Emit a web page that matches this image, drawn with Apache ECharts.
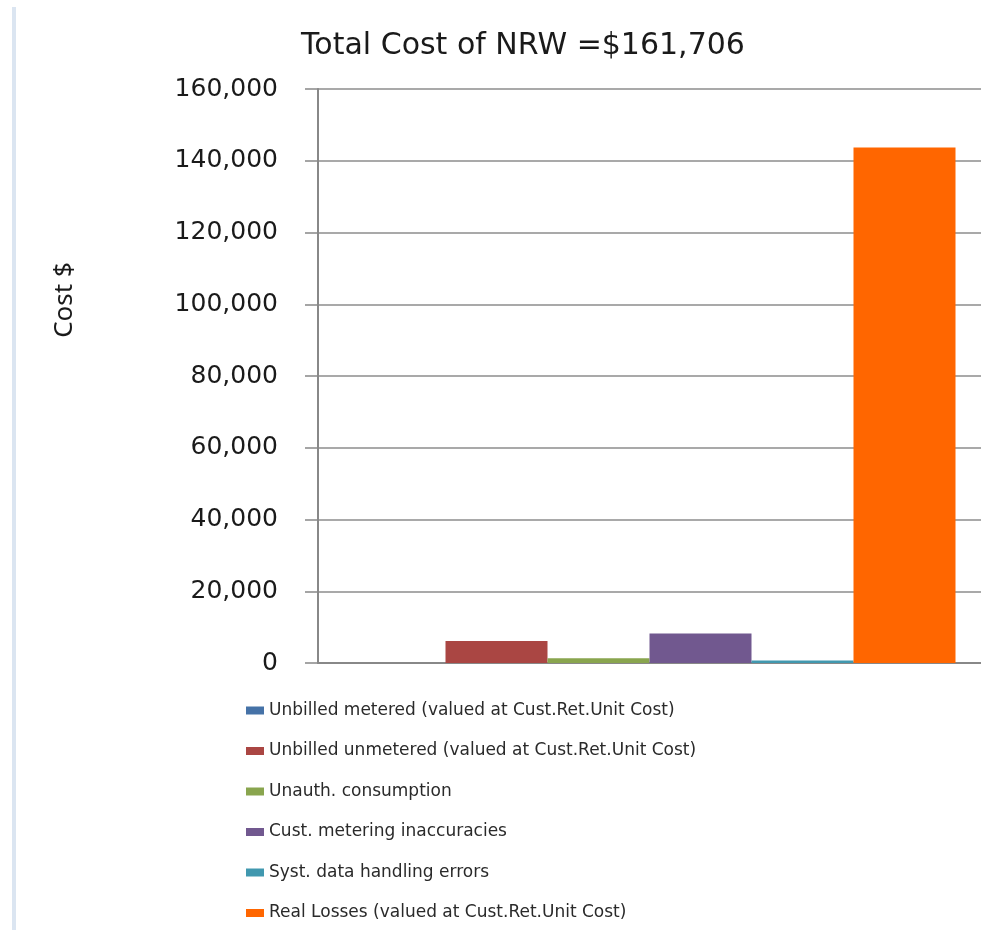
<!DOCTYPE html>
<html>
<head>
<meta charset="utf-8">
<script src="https://cdn.jsdelivr.net/npm/echarts@6/dist/echarts.min.js"></script>
<style>
html,body{margin:0;padding:0;background:#fff;}
#c{width:981px;height:930px;}
</style>
</head>
<body>
<div id="c"></div>
<script>
var titleText = "Total Cost of NRW =$161,706";
var axisTitle = "Cost $";
var categories = [""];
var seriesNames = [
  "Unbilled metered (valued at Cust.Ret.Unit Cost)",
  "Unbilled unmetered (valued at Cust.Ret.Unit Cost)",
  "Unauth. consumption",
  "Cust. metering inaccuracies",
  "Syst. data handling errors",
  "Real Losses (valued at Cust.Ret.Unit Cost)"
];
var seriesValues = [0, 6100, 1300, 8250, 700, 143700];
var seriesColors = ["#4572A7", "#AA4643", "#89A54E", "#71588F", "#4198AF", "#FF6600"];
var yMin = 0, yMax = 160000, yStep = 20000;

var chart = echarts.init(document.getElementById('c'), null, {renderer: 'canvas'});
var series = seriesNames.map(function (n, i) {
  return {
    name: n,
    type: 'bar',
    data: [seriesValues[i]],
    barGap: '0%',
    barWidth: 102,
    itemStyle: {color: seriesColors[i]}
  };
});
chart.setOption({
  animation: false,
  backgroundColor: '#ffffff',
  title: {
    text: titleText,
    left: 518, top: 26, textAlign: 'center',
    textStyle: {fontFamily: 'DejaVu Sans', fontSize: 30, fontWeight: 'normal', color: '#1a1a1a'}
  },
  graphic: [
    {type: 'rect', shape: {x: 12, y: 7, width: 4, height: 923}, style: {fill: '#dbe5f1'}, silent: true},
    {type: 'text', x: 65, y: 300, rotation: Math.PI / 2,
     style: {text: axisTitle, fontFamily: 'Noto Sans', fontSize: 26, fill: '#1a1a1a', align: 'center', verticalAlign: 'middle'}}
  ],
  legend: {
    orient: 'vertical',
    left: 241, top: 697,
    itemWidth: 18, itemHeight: 8, itemGap: 23.5,
    icon: 'rect',
    textStyle: {fontFamily: 'DejaVu Sans', fontSize: 17, color: '#2a2a2a'},
    data: seriesNames
  },
  grid: {left: 318, top: 89, right: 0, height: 574, containLabel: false},
  xAxis: {
    type: 'category',
    data: categories,
    axisLine: {lineStyle: {color: '#888', width: 2}},
    axisTick: {show: false},
    axisLabel: {show: false}
  },
  yAxis: {
    type: 'value',
    min: yMin, max: yMax, interval: yStep,
    axisLine: {show: true, lineStyle: {color: '#888', width: 2}},
    axisTick: {show: true, length: 13, lineStyle: {color: '#888', width: 1.5}},
    axisLabel: {
      margin: 40,
      fontFamily: 'DejaVu Sans', fontSize: 25, color: '#1a1a1a',
      formatter: function (v) { return v.toLocaleString('en-US'); }
    },
    splitLine: {lineStyle: {color: '#8c8c8c', width: 1.5}}
  },
  series: series
});
</script>
</body>
</html>
